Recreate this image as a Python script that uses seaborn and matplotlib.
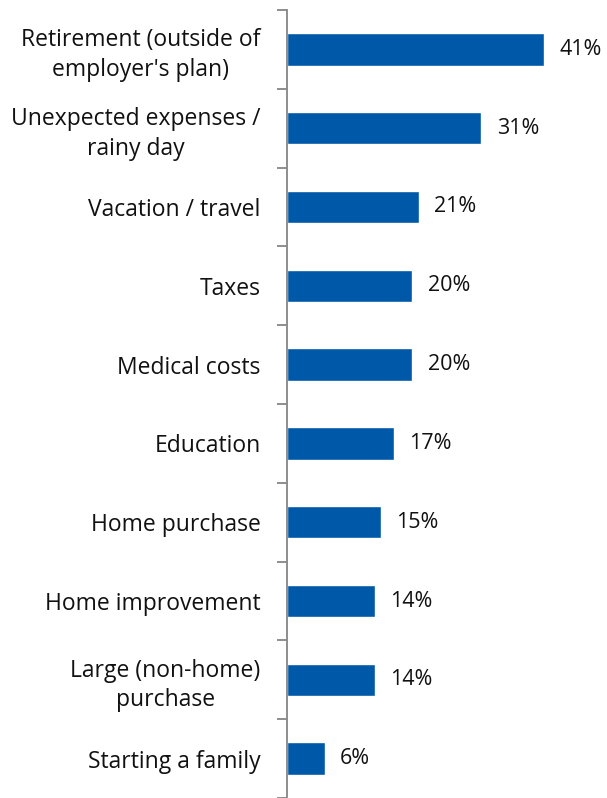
import matplotlib

matplotlib.use("Agg")

import matplotlib.pyplot as plt
import pandas as pd
import seaborn as sns
from matplotlib.ticker import FixedLocator

categories = [
    "Retirement (outside of\nemployer's plan)",
    "Unexpected expenses /\nrainy day",
    "Vacation / travel",
    "Taxes",
    "Medical costs",
    "Education",
    "Home purchase",
    "Home improvement",
    "Large (non-home)\npurchase",
    "Starting a family",
]
values = [41, 31, 21, 20, 20, 17, 15, 14, 14, 6]

sns.set_theme(style="white")
plt.rcParams["font.family"] = ["Open Sans", "DejaVu Sans"]

df = pd.DataFrame({"category": categories, "value": values})

fig = plt.figure(figsize=(6.07, 7.98), dpi=100)
ax = fig.add_axes([287 / 607, 0.0, 320 / 607, 1 - 10 / 798])

sns.barplot(data=df, x="value", y="category", orient="h", color="#0058A8",
            width=0.41, saturation=1, ax=ax)

ax.set_xlim(0, 320 / 6.27)
ax.set_ylim(len(categories) - 0.5, -0.5)
ax.set_xlabel("")
ax.set_ylabel("")
ax.set_xticks([])

for side in ["top", "right", "bottom"]:
    ax.spines[side].set_visible(False)
ax.spines["left"].set_color("#868686")
ax.spines["left"].set_linewidth(1.3)

ax.tick_params(axis="y", which="major", length=0, pad=19, labelsize=16.5,
               labelcolor="#111111")
for lbl in ax.get_yticklabels():
    lbl.set_multialignment("center")
    lbl.set_linespacing(1.3)
ax.yaxis.set_minor_locator(FixedLocator([i - 0.5 for i in range(len(categories) + 1)]))
ax.tick_params(axis="y", which="minor", left=True, length=7, width=1.3, color="#868686")

for i, v in enumerate(values):
    ax.annotate(f"{v}%", xy=(v, i), xytext=(11, 0), textcoords="offset points",
                va="center", ha="left", fontsize=15.5, color="#111111")

fig.savefig("out.png", dpi=100)
plt.close(fig)
